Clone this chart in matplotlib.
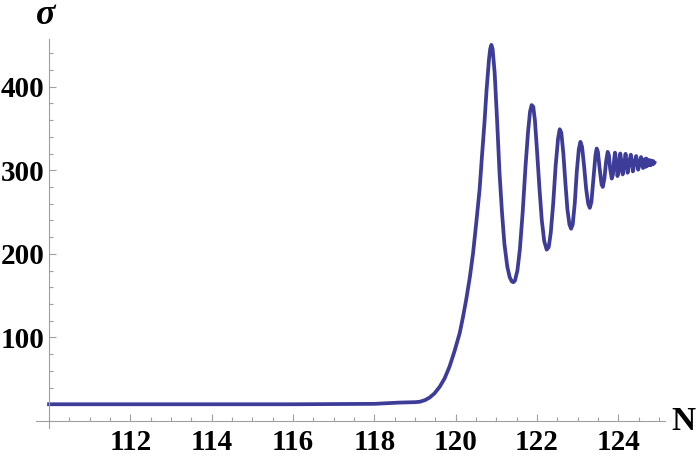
import numpy as np
import matplotlib
matplotlib.use('Agg')
import matplotlib.pyplot as plt
from matplotlib.ticker import MultipleLocator

# points (N, sigma)
n_vals = [110.0, 112.0, 114.0, 116.0, 118.0, 118.62, 119.0, 119.12, 119.25, 119.36,
          119.48, 119.61, 119.73, 119.85, 119.97, 120.10, 120.18, 120.26, 120.35, 120.43,
          120.51, 120.59, 120.65, 120.71, 120.76, 120.82, 120.85, 120.88, 120.91, 120.96,
          121.02, 121.08, 121.14, 121.20, 121.27, 121.33, 121.38, 121.42, 121.46, 121.52,
          121.58, 121.65, 121.72, 121.78, 121.83, 121.87, 121.91, 121.95, 122.00, 122.06,
          122.12, 122.18, 122.24, 122.29, 122.34, 122.40, 122.46, 122.52, 122.56, 122.60,
          122.65, 122.70, 122.75, 122.80, 122.84, 122.88, 122.93, 122.98, 123.03, 123.07,
          123.11, 123.16, 123.21, 123.26, 123.30, 123.34, 123.39, 123.44, 123.47, 123.50,
          123.54, 123.59, 123.62, 123.66, 123.70, 123.74, 123.77, 123.80, 123.84, 123.87,
          123.90, 123.92, 123.95, 123.98, 124.01, 124.05, 124.08, 124.11, 124.14, 124.18,
          124.21, 124.23, 124.27, 124.31, 124.34, 124.36, 124.40, 124.44, 124.47, 124.49,
          124.53, 124.56, 124.59, 124.61, 124.64, 124.67, 124.69, 124.71, 124.74, 124.76,
          124.78, 124.80, 124.82, 124.84, 124.86, 124.88, 124.89]
sigma_vals = [20, 20, 20, 20, 20.5, 22, 22.5, 23, 25, 28,
              33, 41, 51, 65, 83, 105, 124, 145, 172, 201,
              238, 277, 318, 357, 395, 432, 445, 450, 445, 417,
              360, 297, 250, 212, 185, 172, 167, 166, 168, 180,
              205, 250, 305, 345, 370, 378, 376, 360, 325, 280,
              240, 215, 205, 208, 225, 260, 305, 338, 349, 345,
              320, 285, 253, 235, 230, 235, 260, 298, 325, 334,
              328, 305, 278, 260, 255, 262, 290, 318, 326, 322,
              303, 283, 280, 290, 310, 322, 318, 302, 290, 295,
              313, 321, 312, 293, 298, 320, 310, 295, 305, 319.6,
              306, 297, 310, 318.6, 307, 298.6, 309, 317, 308, 300.6,
              309, 315.8, 307, 302.6, 313, 304, 314, 305, 312, 306,
              312, 306, 311, 307, 311, 308, 309]

xticks = [112, 114, 116, 118, 120, 122, 124]
yticks = [100, 200, 300, 400]

fig = plt.figure(figsize=(6.98, 4.58), dpi=100)
ax = fig.add_axes([36/698, 30/458, 629/698, 389/458])

ax.plot(n_vals, sigma_vals, color='#3d3d99', lw=2.7, solid_joinstyle='round')

ax.set_xlim(109.68, 125.15)
ax.set_ylim(-8.4, 457)

for s in ['top', 'right']:
    ax.spines[s].set_visible(False)
ax.spines['left'].set_position(('data', 110))
ax.spines['bottom'].set_position(('data', 0))
for s in ['left', 'bottom']:
    ax.spines[s].set_color('#a0a0a0')
    ax.spines[s].set_linewidth(0.8)

ax.set_xticks(xticks)
ax.set_yticks(yticks)
ax.xaxis.set_minor_locator(MultipleLocator(0.5))
ax.yaxis.set_minor_locator(MultipleLocator(20))
ax.tick_params(which='both', direction='in', color='#a0a0a0', width=0.8)
ax.tick_params(which='major', length=5)
ax.tick_params(which='minor', length=3)
ax.tick_params(axis='x', which='major', pad=6)
ax.tick_params(axis='y', which='major', pad=3)

for lab in ax.get_xticklabels() + ax.get_yticklabels():
    lab.set_fontfamily('Liberation Serif')
    lab.set_fontweight('bold')
    lab.set_fontsize(21)

fig.text(683/698, 1 - 421/458, 'N', fontfamily='Liberation Serif', fontweight='bold',
         fontsize=24, ha='center', va='center')
fig.text(46/698, 1 - 15/458, 'σ', fontfamily='Liberation Serif', fontweight='bold',
         fontstyle='italic', fontsize=26, ha='center', va='center')

fig.savefig('out.png', dpi=100)
